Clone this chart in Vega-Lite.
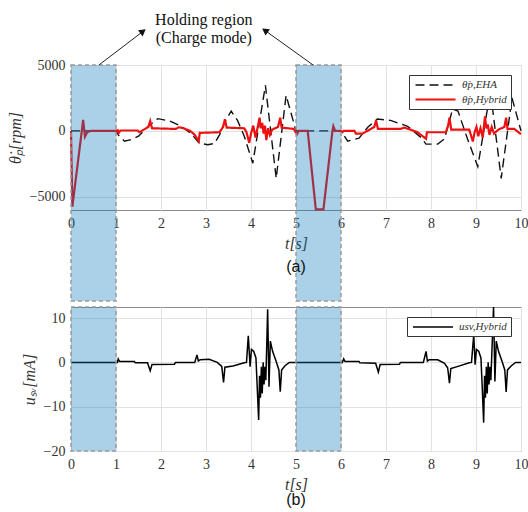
{
  "$schema": "https://vega.github.io/schema/vega-lite/v6.json",
  "padding": {"left": 6, "top": 11, "right": 0, "bottom": 0},
  "spacing": 0,
  "background": "white",
  "config": {
    "view": {"stroke": "#8c8c8c", "strokeWidth": 1},
    "style": {
      "guide-label": {"font": "Liberation Serif", "fontSize": 14, "fill": "#333333"},
      "guide-title": {"font": "Liberation Serif", "fontSize": 16, "fill": "#333333", "fontStyle": "italic", "fontWeight": "normal"}
    },
    "axis": {
      "labelFont": "Liberation Serif", "labelFontSize": 14, "labelColor": "#333333",
      "titleFont": "Liberation Serif", "titleFontStyle": "italic", "titleFontWeight": "normal",
      "titleFontSize": 16, "titleColor": "#333333",
      "gridColor": "#e2e2e2", "domain": false, "ticks": false, "labelPadding": 6,
      "labelFlush": false, "labelOverlap": false, "format": "d"
    },
    "legend": {
      "orient": "top-right", "offset": 10, "title": null,
      "strokeColor": "#333333", "fillColor": "white", "padding": 4,
      "labelFont": "Liberation Serif", "labelFontStyle": "italic", "labelFontSize": 11, "labelColor": "#333333",
      "symbolType": "M-4,0H4", "symbolSize": 100, "symbolOffset": 16, "labelOffset": 20, "rowPadding": 3
    }
  },
  "resolve": {
    "scale": {"color": "independent", "strokeDash": "independent", "strokeWidth": "independent"},
    "legend": {"color": "independent", "strokeDash": "independent", "strokeWidth": "independent"}
  },
  "datasets": {
    "regions": [{"start": 0, "end": 1}, {"start": 5, "end": 6}],
    "arrows": [
      {"side": "left", "x0": 0.62, "y0": 5000, "x1": 1.6, "y1": 7550},
      {"side": "right", "x0": 5.38, "y0": 5000, "x1": 4.31, "y1": 7620}
    ],
    "notes": [{"t": 2.95, "v": 9000, "label": "Holding region\n(Charge mode)"}],
    "top": [
      {"series": "θ̇p,EHA", "t": 0, "v": 0},
      {"series": "θ̇p,EHA", "t": 1.0, "v": 0},
      {"series": "θ̇p,EHA", "t": 1.05, "v": -300},
      {"series": "θ̇p,EHA", "t": 1.19, "v": -780},
      {"series": "θ̇p,EHA", "t": 1.35, "v": -650},
      {"series": "θ̇p,EHA", "t": 1.5, "v": -400},
      {"series": "θ̇p,EHA", "t": 1.7, "v": 300},
      {"series": "θ̇p,EHA", "t": 1.93, "v": 930},
      {"series": "θ̇p,EHA", "t": 2.2, "v": 750},
      {"series": "θ̇p,EHA", "t": 2.44, "v": 370},
      {"series": "θ̇p,EHA", "t": 2.67, "v": -200},
      {"series": "θ̇p,EHA", "t": 2.85, "v": -930},
      {"series": "θ̇p,EHA", "t": 3.04, "v": -1050},
      {"series": "θ̇p,EHA", "t": 3.19, "v": -950},
      {"series": "θ̇p,EHA", "t": 3.3, "v": -300},
      {"series": "θ̇p,EHA", "t": 3.42, "v": 700},
      {"series": "θ̇p,EHA", "t": 3.56, "v": 1500},
      {"series": "θ̇p,EHA", "t": 3.7, "v": 800},
      {"series": "θ̇p,EHA", "t": 3.85, "v": -400},
      {"series": "θ̇p,EHA", "t": 4.04, "v": -2450},
      {"series": "θ̇p,EHA", "t": 4.32, "v": 3450},
      {"series": "θ̇p,EHA", "t": 4.56, "v": -3600},
      {"series": "θ̇p,EHA", "t": 4.78, "v": 2700},
      {"series": "θ̇p,EHA", "t": 5.0, "v": 0},
      {"series": "θ̇p,EHA", "t": 6.0, "v": 0},
      {"series": "θ̇p,EHA", "t": 6.15, "v": -780},
      {"series": "θ̇p,EHA", "t": 6.4, "v": -550},
      {"series": "θ̇p,EHA", "t": 6.6, "v": 300},
      {"series": "θ̇p,EHA", "t": 6.81, "v": 900},
      {"series": "θ̇p,EHA", "t": 7.1, "v": 800},
      {"series": "θ̇p,EHA", "t": 7.48, "v": 350},
      {"series": "θ̇p,EHA", "t": 7.78, "v": -500},
      {"series": "θ̇p,EHA", "t": 7.89, "v": -1000},
      {"series": "θ̇p,EHA", "t": 8.15, "v": -1000},
      {"series": "θ̇p,EHA", "t": 8.3, "v": -600},
      {"series": "θ̇p,EHA", "t": 8.48, "v": 1650},
      {"series": "θ̇p,EHA", "t": 8.6, "v": 1500},
      {"series": "θ̇p,EHA", "t": 8.81, "v": -600},
      {"series": "θ̇p,EHA", "t": 9.04, "v": -2700},
      {"series": "θ̇p,EHA", "t": 9.32, "v": 3000},
      {"series": "θ̇p,EHA", "t": 9.56, "v": -3600},
      {"series": "θ̇p,EHA", "t": 9.8, "v": 2500},
      {"series": "θ̇p,EHA", "t": 10.0, "v": 0},
      {"series": "θ̇p,Hybrid", "t": 0, "v": 0},
      {"series": "θ̇p,Hybrid", "t": 0.03, "v": -5750},
      {"series": "θ̇p,Hybrid", "t": 0.27, "v": 830},
      {"series": "θ̇p,Hybrid", "t": 0.31, "v": -440},
      {"series": "θ̇p,Hybrid", "t": 0.36, "v": -100},
      {"series": "θ̇p,Hybrid", "t": 0.44, "v": 0},
      {"series": "θ̇p,Hybrid", "t": 1.0, "v": 0},
      {"series": "θ̇p,Hybrid", "t": 1.04, "v": 50},
      {"series": "θ̇p,Hybrid", "t": 1.06, "v": -150},
      {"series": "θ̇p,Hybrid", "t": 1.1, "v": 30},
      {"series": "θ̇p,Hybrid", "t": 1.48, "v": 30},
      {"series": "θ̇p,Hybrid", "t": 1.52, "v": -100},
      {"series": "θ̇p,Hybrid", "t": 1.72, "v": 300},
      {"series": "θ̇p,Hybrid", "t": 1.76, "v": 750},
      {"series": "θ̇p,Hybrid", "t": 1.8, "v": 200},
      {"series": "θ̇p,Hybrid", "t": 2.33, "v": 150},
      {"series": "θ̇p,Hybrid", "t": 2.4, "v": 280},
      {"series": "θ̇p,Hybrid", "t": 2.5, "v": 200},
      {"series": "θ̇p,Hybrid", "t": 2.65, "v": 0},
      {"series": "θ̇p,Hybrid", "t": 2.75, "v": -300},
      {"series": "θ̇p,Hybrid", "t": 2.84, "v": -780},
      {"series": "θ̇p,Hybrid", "t": 2.86, "v": -150},
      {"series": "θ̇p,Hybrid", "t": 3.3, "v": -100},
      {"series": "θ̇p,Hybrid", "t": 3.38, "v": 300},
      {"series": "θ̇p,Hybrid", "t": 3.42, "v": 880},
      {"series": "θ̇p,Hybrid", "t": 3.46, "v": 250},
      {"series": "θ̇p,Hybrid", "t": 3.85, "v": 200},
      {"series": "θ̇p,Hybrid", "t": 3.9, "v": -100},
      {"series": "θ̇p,Hybrid", "t": 3.96, "v": -900},
      {"series": "θ̇p,Hybrid", "t": 4.0, "v": -200},
      {"series": "θ̇p,Hybrid", "t": 4.05, "v": 400},
      {"series": "θ̇p,Hybrid", "t": 4.1, "v": -500},
      {"series": "θ̇p,Hybrid", "t": 4.15, "v": 300},
      {"series": "θ̇p,Hybrid", "t": 4.19, "v": 1000},
      {"series": "θ̇p,Hybrid", "t": 4.22, "v": 200},
      {"series": "θ̇p,Hybrid", "t": 4.25, "v": 600},
      {"series": "θ̇p,Hybrid", "t": 4.28, "v": -200},
      {"series": "θ̇p,Hybrid", "t": 4.31, "v": 400},
      {"series": "θ̇p,Hybrid", "t": 4.34, "v": -700},
      {"series": "θ̇p,Hybrid", "t": 4.38, "v": 200},
      {"series": "θ̇p,Hybrid", "t": 4.42, "v": -300},
      {"series": "θ̇p,Hybrid", "t": 4.47, "v": 100},
      {"series": "θ̇p,Hybrid", "t": 4.6, "v": 300},
      {"series": "θ̇p,Hybrid", "t": 4.65, "v": 1000},
      {"series": "θ̇p,Hybrid", "t": 4.68, "v": 250},
      {"series": "θ̇p,Hybrid", "t": 4.95, "v": 150},
      {"series": "θ̇p,Hybrid", "t": 5.02, "v": -250},
      {"series": "θ̇p,Hybrid", "t": 5.06, "v": 0},
      {"series": "θ̇p,Hybrid", "t": 5.26, "v": 0},
      {"series": "θ̇p,Hybrid", "t": 5.44, "v": -5950},
      {"series": "θ̇p,Hybrid", "t": 5.61, "v": -5950},
      {"series": "θ̇p,Hybrid", "t": 5.81, "v": 0},
      {"series": "θ̇p,Hybrid", "t": 5.83, "v": 350},
      {"series": "θ̇p,Hybrid", "t": 5.87, "v": 0},
      {"series": "θ̇p,Hybrid", "t": 6.0, "v": 0},
      {"series": "θ̇p,Hybrid", "t": 6.03, "v": -100},
      {"series": "θ̇p,Hybrid", "t": 6.06, "v": 0},
      {"series": "θ̇p,Hybrid", "t": 6.3, "v": 0},
      {"series": "θ̇p,Hybrid", "t": 6.33, "v": -200},
      {"series": "θ̇p,Hybrid", "t": 6.48, "v": -200},
      {"series": "θ̇p,Hybrid", "t": 6.74, "v": 300},
      {"series": "θ̇p,Hybrid", "t": 6.78, "v": 800},
      {"series": "θ̇p,Hybrid", "t": 6.82, "v": 150},
      {"series": "θ̇p,Hybrid", "t": 7.33, "v": 150},
      {"series": "θ̇p,Hybrid", "t": 7.4, "v": 250},
      {"series": "θ̇p,Hybrid", "t": 7.5, "v": 150},
      {"series": "θ̇p,Hybrid", "t": 7.7, "v": -100},
      {"series": "θ̇p,Hybrid", "t": 7.89, "v": -600},
      {"series": "θ̇p,Hybrid", "t": 7.91, "v": -100},
      {"series": "θ̇p,Hybrid", "t": 8.33, "v": -100},
      {"series": "θ̇p,Hybrid", "t": 8.38, "v": 400},
      {"series": "θ̇p,Hybrid", "t": 8.41, "v": 1000},
      {"series": "θ̇p,Hybrid", "t": 8.45, "v": 100},
      {"series": "θ̇p,Hybrid", "t": 8.85, "v": 100},
      {"series": "θ̇p,Hybrid", "t": 8.93, "v": -800},
      {"series": "θ̇p,Hybrid", "t": 8.97, "v": -100},
      {"series": "θ̇p,Hybrid", "t": 9.01, "v": 300},
      {"series": "θ̇p,Hybrid", "t": 9.05, "v": -400},
      {"series": "θ̇p,Hybrid", "t": 9.1, "v": 200},
      {"series": "θ̇p,Hybrid", "t": 9.15, "v": -500},
      {"series": "θ̇p,Hybrid", "t": 9.2, "v": 1100},
      {"series": "θ̇p,Hybrid", "t": 9.23, "v": 200},
      {"series": "θ̇p,Hybrid", "t": 9.26, "v": 500},
      {"series": "θ̇p,Hybrid", "t": 9.3, "v": -300},
      {"series": "θ̇p,Hybrid", "t": 9.35, "v": 300},
      {"series": "θ̇p,Hybrid", "t": 9.4, "v": -200},
      {"series": "θ̇p,Hybrid", "t": 9.5, "v": 100},
      {"series": "θ̇p,Hybrid", "t": 9.63, "v": 300},
      {"series": "θ̇p,Hybrid", "t": 9.67, "v": 1000},
      {"series": "θ̇p,Hybrid", "t": 9.7, "v": 150},
      {"series": "θ̇p,Hybrid", "t": 9.85, "v": 150},
      {"series": "θ̇p,Hybrid", "t": 10.0, "v": -250}
    ],
    "bottom": [
      {"series": "usv,Hybrid", "t": 0, "v": 0},
      {"series": "usv,Hybrid", "t": 1.03, "v": 0},
      {"series": "usv,Hybrid", "t": 1.05, "v": 0.8},
      {"series": "usv,Hybrid", "t": 1.08, "v": 0.2},
      {"series": "usv,Hybrid", "t": 1.41, "v": 0.2},
      {"series": "usv,Hybrid", "t": 1.43, "v": -0.1},
      {"series": "usv,Hybrid", "t": 1.7, "v": -0.1},
      {"series": "usv,Hybrid", "t": 1.76, "v": -1.9},
      {"series": "usv,Hybrid", "t": 1.8, "v": -0.5},
      {"series": "usv,Hybrid", "t": 2.3, "v": -0.4},
      {"series": "usv,Hybrid", "t": 2.32, "v": 0},
      {"series": "usv,Hybrid", "t": 2.75, "v": 0},
      {"series": "usv,Hybrid", "t": 2.8, "v": 1.7},
      {"series": "usv,Hybrid", "t": 2.83, "v": 0.3},
      {"series": "usv,Hybrid", "t": 2.87, "v": 0.6},
      {"series": "usv,Hybrid", "t": 3.07, "v": 0.7},
      {"series": "usv,Hybrid", "t": 3.25, "v": 0},
      {"series": "usv,Hybrid", "t": 3.35, "v": -0.9},
      {"series": "usv,Hybrid", "t": 3.39, "v": -4.5},
      {"series": "usv,Hybrid", "t": 3.42, "v": -1.1},
      {"series": "usv,Hybrid", "t": 3.6, "v": -0.8},
      {"series": "usv,Hybrid", "t": 3.85, "v": -0.1},
      {"series": "usv,Hybrid", "t": 3.9, "v": 0},
      {"series": "usv,Hybrid", "t": 3.94, "v": 6},
      {"series": "usv,Hybrid", "t": 3.98, "v": -1},
      {"series": "usv,Hybrid", "t": 4.01, "v": 2.9},
      {"series": "usv,Hybrid", "t": 4.06, "v": 2.5},
      {"series": "usv,Hybrid", "t": 4.11, "v": 1.0},
      {"series": "usv,Hybrid", "t": 4.14, "v": -6},
      {"series": "usv,Hybrid", "t": 4.17, "v": -13},
      {"series": "usv,Hybrid", "t": 4.19, "v": -3},
      {"series": "usv,Hybrid", "t": 4.21, "v": -8},
      {"series": "usv,Hybrid", "t": 4.23, "v": -1},
      {"series": "usv,Hybrid", "t": 4.25, "v": -7},
      {"series": "usv,Hybrid", "t": 4.27, "v": 0},
      {"series": "usv,Hybrid", "t": 4.29, "v": -5},
      {"series": "usv,Hybrid", "t": 4.31, "v": -1},
      {"series": "usv,Hybrid", "t": 4.33, "v": -4},
      {"series": "usv,Hybrid", "t": 4.37, "v": 12},
      {"series": "usv,Hybrid", "t": 4.4, "v": -5.5},
      {"series": "usv,Hybrid", "t": 4.43, "v": 4.8},
      {"series": "usv,Hybrid", "t": 4.48, "v": 2.5},
      {"series": "usv,Hybrid", "t": 4.56, "v": 0.2},
      {"series": "usv,Hybrid", "t": 4.62, "v": -1.7},
      {"series": "usv,Hybrid", "t": 4.65, "v": -6.6},
      {"series": "usv,Hybrid", "t": 4.68, "v": -1.7},
      {"series": "usv,Hybrid", "t": 4.75, "v": -0.8},
      {"series": "usv,Hybrid", "t": 4.85, "v": 0},
      {"series": "usv,Hybrid", "t": 6.0, "v": 0},
      {"series": "usv,Hybrid", "t": 6.03, "v": 0},
      {"series": "usv,Hybrid", "t": 6.06, "v": 0.8},
      {"series": "usv,Hybrid", "t": 6.09, "v": 0.2},
      {"series": "usv,Hybrid", "t": 6.4, "v": 0.2},
      {"series": "usv,Hybrid", "t": 6.42, "v": -0.1},
      {"series": "usv,Hybrid", "t": 6.77, "v": -0.2},
      {"series": "usv,Hybrid", "t": 6.83, "v": -2.2},
      {"series": "usv,Hybrid", "t": 6.87, "v": -0.5},
      {"series": "usv,Hybrid", "t": 7.3, "v": -0.4},
      {"series": "usv,Hybrid", "t": 7.32, "v": 0},
      {"series": "usv,Hybrid", "t": 7.83, "v": 0},
      {"series": "usv,Hybrid", "t": 7.89, "v": 2.5},
      {"series": "usv,Hybrid", "t": 7.92, "v": 0.3},
      {"series": "usv,Hybrid", "t": 7.96, "v": 0.6},
      {"series": "usv,Hybrid", "t": 8.15, "v": 0.6},
      {"series": "usv,Hybrid", "t": 8.3, "v": -0.2},
      {"series": "usv,Hybrid", "t": 8.37, "v": -1.2},
      {"series": "usv,Hybrid", "t": 8.41, "v": -4.7},
      {"series": "usv,Hybrid", "t": 8.44, "v": -1.4},
      {"series": "usv,Hybrid", "t": 8.6, "v": -0.9},
      {"series": "usv,Hybrid", "t": 8.85, "v": -0.1},
      {"series": "usv,Hybrid", "t": 8.9, "v": 0},
      {"series": "usv,Hybrid", "t": 8.95, "v": 6.3},
      {"series": "usv,Hybrid", "t": 8.98, "v": -0.5},
      {"series": "usv,Hybrid", "t": 9.01, "v": 2.9},
      {"series": "usv,Hybrid", "t": 9.06, "v": 2.5},
      {"series": "usv,Hybrid", "t": 9.11, "v": 1.0},
      {"series": "usv,Hybrid", "t": 9.14, "v": -6},
      {"series": "usv,Hybrid", "t": 9.17, "v": -13.6},
      {"series": "usv,Hybrid", "t": 9.19, "v": -3},
      {"series": "usv,Hybrid", "t": 9.21, "v": -8},
      {"series": "usv,Hybrid", "t": 9.23, "v": -1},
      {"series": "usv,Hybrid", "t": 9.25, "v": -7},
      {"series": "usv,Hybrid", "t": 9.27, "v": 0},
      {"series": "usv,Hybrid", "t": 9.29, "v": -5},
      {"series": "usv,Hybrid", "t": 9.31, "v": -1},
      {"series": "usv,Hybrid", "t": 9.33, "v": -4},
      {"series": "usv,Hybrid", "t": 9.39, "v": 12.5},
      {"series": "usv,Hybrid", "t": 9.42, "v": -4.3},
      {"series": "usv,Hybrid", "t": 9.45, "v": 4.8},
      {"series": "usv,Hybrid", "t": 9.5, "v": 2.5},
      {"series": "usv,Hybrid", "t": 9.58, "v": 0.2},
      {"series": "usv,Hybrid", "t": 9.64, "v": -1.7},
      {"series": "usv,Hybrid", "t": 9.67, "v": -6.7},
      {"series": "usv,Hybrid", "t": 9.7, "v": -1.7},
      {"series": "usv,Hybrid", "t": 9.78, "v": -0.8},
      {"series": "usv,Hybrid", "t": 9.88, "v": 0},
      {"series": "usv,Hybrid", "t": 10.0, "v": 0}
    ]
  },
  "vconcat": [
    {
      "width": 450,
      "height": 145,
      "title": {"text": "(a)", "orient": "bottom", "font": "Liberation Sans", "fontSize": 16, "fontWeight": "normal", "color": "#111111", "offset": -43},
      "layer": [
        {
          "data": {"name": "top"},
          "mark": {"type": "line"},
          "encoding": {
            "x": {"field": "t", "type": "quantitative", "scale": {"domain": [0, 10], "nice": false},
                  "axis": {"values": [0, 1, 2, 3, 4, 5, 6, 7, 8, 9, 10], "title": "t[s]", "titlePadding": 5}},
            "y": {"field": "v", "type": "quantitative", "scale": {"domain": [-6000, 5000], "nice": false},
                  "axis": {"values": [-5000, 0, 5000], "title": "θ̇ₚ[rpm]", "titlePadding": 6}},
            "color": {"field": "series", "type": "nominal",
                      "scale": {"domain": ["θ̇p,EHA", "θ̇p,Hybrid"], "range": ["#111111", "#ee1111"]}},
            "strokeDash": {"field": "series", "type": "nominal",
                      "scale": {"domain": ["θ̇p,EHA", "θ̇p,Hybrid"], "range": [[9, 5], [1, 0]]}},
            "strokeWidth": {"field": "series", "type": "nominal",
                      "scale": {"domain": ["θ̇p,EHA", "θ̇p,Hybrid"], "range": [1.4, 2.2]}}
          }
        },
        {
          "data": {"name": "regions"},
          "mark": {"type": "rect", "fill": "#0072bd", "fillOpacity": 0.33, "stroke": "#9a9a9a", "strokeOpacity": 1, "strokeDash": [4, 3], "strokeWidth": 1.5},
          "encoding": {
            "x": {"field": "start", "type": "quantitative"},
            "x2": {"field": "end"},
            "y": {"datum": 5000},
            "y2": {"datum": -12900}
          }
        },
        {
          "data": {"name": "arrows"},
          "mark": {"type": "rule", "color": "#222222", "strokeWidth": 1},
          "encoding": {
            "x": {"field": "x0", "type": "quantitative"},
            "y": {"field": "y0", "type": "quantitative"},
            "x2": {"field": "x1"},
            "y2": {"field": "y1"}
          }
        },
        {
          "data": {"name": "arrows"},
          "transform": [{"filter": "datum.side == 'left'"}],
          "mark": {"type": "point", "shape": "triangle-up", "filled": true, "color": "#111111", "opacity": 1, "size": 60, "angle": 53},
          "encoding": {
            "x": {"field": "x1", "type": "quantitative"},
            "y": {"field": "y1", "type": "quantitative"}
          }
        },
        {
          "data": {"name": "arrows"},
          "transform": [{"filter": "datum.side == 'right'"}],
          "mark": {"type": "point", "shape": "triangle-up", "filled": true, "color": "#111111", "opacity": 1, "size": 60, "angle": 305},
          "encoding": {
            "x": {"field": "x1", "type": "quantitative"},
            "y": {"field": "y1", "type": "quantitative"}
          }
        },
        {
          "data": {"name": "notes"},
          "mark": {"type": "text", "font": "Liberation Serif", "fontSize": 16, "color": "#111111", "align": "center", "baseline": "top", "lineBreak": "\n", "lineHeight": 18},
          "encoding": {
            "x": {"field": "t", "type": "quantitative"},
            "y": {"field": "v", "type": "quantitative"},
            "text": {"field": "label"}
          }
        }
      ]
    },
    {
      "width": 450,
      "height": 144,
      "title": {"text": "(b)", "orient": "bottom", "font": "Liberation Sans", "fontSize": 16, "fontWeight": "normal", "color": "#111111", "offset": 0},
      "layer": [
        {
          "data": {"name": "bottom"},
          "mark": {"type": "line", "strokeWidth": 1.5},
          "encoding": {
            "x": {"field": "t", "type": "quantitative", "scale": {"domain": [0, 10], "nice": false},
                  "axis": {"values": [0, 1, 2, 3, 4, 5, 6, 7, 8, 9, 10], "title": "t[s]", "titlePadding": 5}},
            "y": {"field": "v", "type": "quantitative", "scale": {"domain": [-20, 12.5], "nice": false},
                  "axis": {"values": [-20, -10, 0, 10], "title": "uₛᵥ[mA]", "titlePadding": 6}},
            "color": {"field": "series", "type": "nominal", "scale": {"domain": ["usv,Hybrid"], "range": ["#000000"]},
                      "legend": {"offset": 10}}
          }
        },
        {
          "data": {"name": "regions"},
          "mark": {"type": "rect", "fill": "#0072bd", "fillOpacity": 0.33, "stroke": "#9a9a9a", "strokeOpacity": 1, "strokeDash": [4, 3], "strokeWidth": 1.5},
          "encoding": {
            "x": {"field": "start", "type": "quantitative"},
            "x2": {"field": "end"},
            "y": {"datum": 12.5},
            "y2": {"datum": -20}
          }
        }
      ]
    }
  ]
}
